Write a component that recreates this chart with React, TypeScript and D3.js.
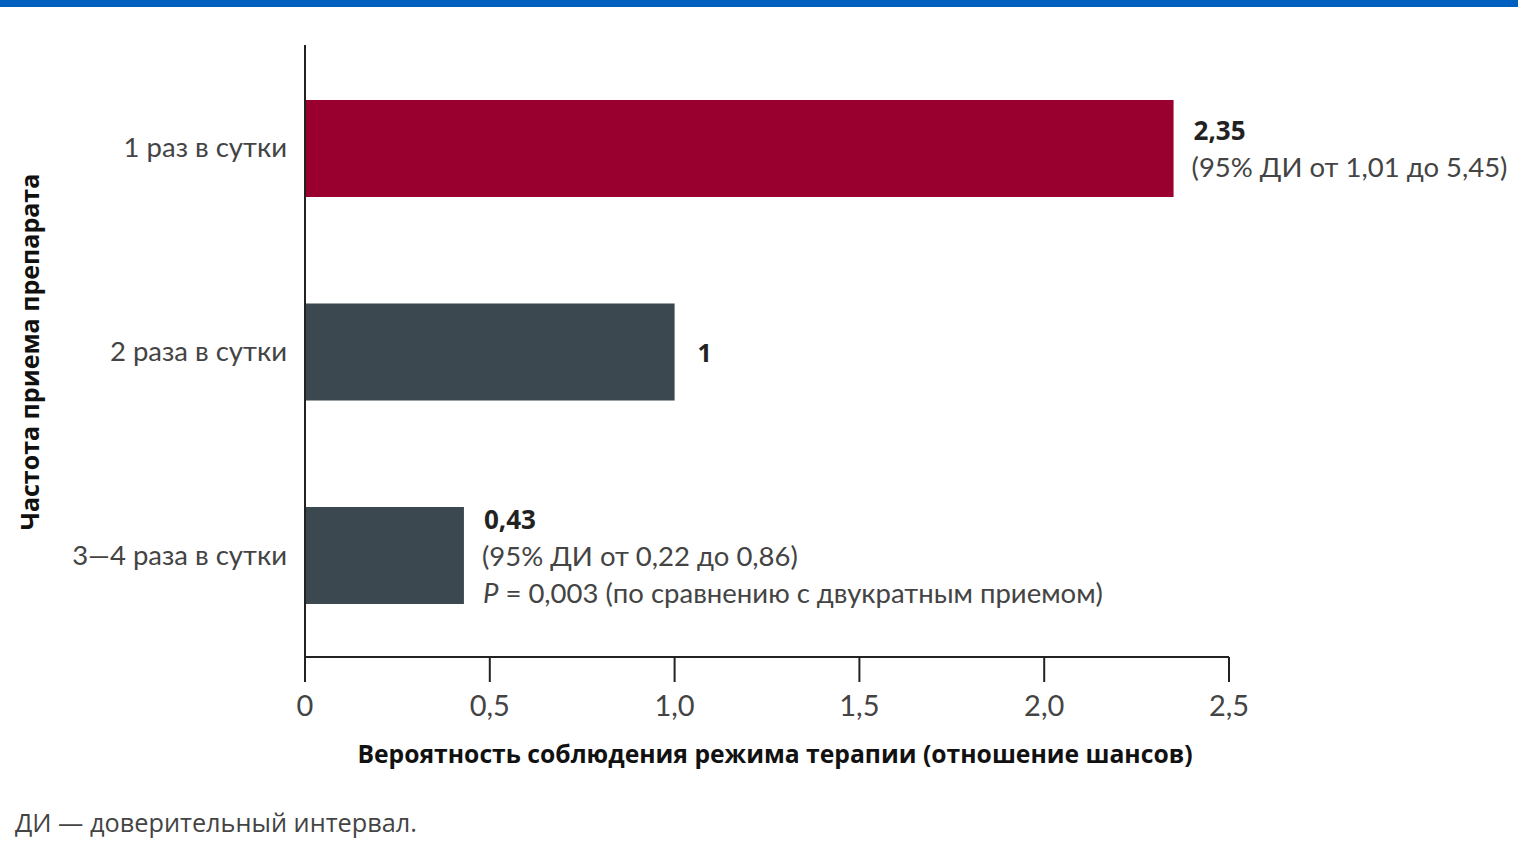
import React from "react";
import * as d3 from "d3";

const categories = ["1 раз в сутки", "2 раза в сутки", "3—4 раза в сутки"];
const values = [2.35, 1, 0.43];
const valueLabels = ["2,35", "1", "0,43"];
const ciLabels = ["(95% ДИ от 1,01 до 5,45)", "", "(95% ДИ от 0,22 до 0,86)"];
const pLabels = ["", "", " = 0,003 (по сравнению с двукратным приемом)"];
const xTicks = [0, 0.5, 1.0, 1.5, 2.0, 2.5];
const xTickLabels = ["0", "0,5", "1,0", "1,5", "2,0", "2,5"];
const barColors = ["#990030", "#3b4850", "#3b4850"];

const W = 1518;
const H = 841;
const FONT = "Lato, 'Open Sans', 'DejaVu Sans', sans-serif";
const BOLD_FONT = "'Open Sans', Lato, sans-serif";

export default function App() {
  const x = d3.scaleLinear().domain([0, 2.5]).range([305, 1229]);
  const y = d3
    .scaleBand<string>()
    .domain(categories)
    .range([47, 657])
    .paddingInner(0.5233)
    .paddingOuter(0.2604);
  const bw = y.bandwidth();
  const axisY = 657;
  const lineH = 36.5;

  return (
    <svg
      width={W}
      height={H}
      style={{ position: "absolute", left: 0, top: 0, background: "#fff" }}
      fontFamily={FONT}
    >
      <rect x={0} y={0} width={W} height={7} fill="#0060c0" />

      {categories.map((c, i) => (
        <rect
          key={c}
          x={x(0)}
          y={y(c)}
          width={x(values[i]) - x(0)}
          height={bw}
          fill={barColors[i]}
        />
      ))}

      {/* axes */}
      <line x1={x(0)} x2={x(0)} y1={45} y2={axisY} stroke="#222" strokeWidth={2} />
      <line x1={x(0)} x2={x(2.5)} y1={axisY} y2={axisY} stroke="#222" strokeWidth={2} />
      {xTicks.map((t, i) => (
        <g key={t}>
          <line x1={x(t)} x2={x(t)} y1={axisY} y2={axisY + 25} stroke="#222" strokeWidth={2} />
          <text x={x(t)} y={716} textAnchor="middle" fontSize={29} fill="#444">
            {xTickLabels[i]}
          </text>
        </g>
      ))}

      {/* category labels */}
      {categories.map((c) => (
        <text
          key={c}
          x={287}
          y={(y(c) as number) + bw / 2 + 9}
          textAnchor="end"
          fontSize={27.5}
          fill="#444"
        >
          {c}
        </text>
      ))}

      {/* value annotations */}
      {categories.map((c, i) => {
        const mid = (y(c) as number) + bw / 2;
        const lx = x(values[i]) + 18;
        const lines = 1 + (ciLabels[i] ? 1 : 0) + (pLabels[i] ? 1 : 0);
        const firstBase = mid - ((lines - 1) * lineH) / 2 + 10;
        if (lines === 1) {
          return (
            <text key={c} x={lx + 5} y={firstBase} fontSize={25} fontWeight="bold" fill="#222" fontFamily={BOLD_FONT}>
              {valueLabels[i]}
            </text>
          );
        }
        return (
          <g key={c}>
            <text x={lx + 2} y={firstBase} fontSize={26} fontWeight="bold" fill="#222" fontFamily={BOLD_FONT}>
              {valueLabels[i]}
            </text>
            <text x={lx} y={firstBase + lineH} fontSize={27.5} fill="#444">
              {ciLabels[i]}
            </text>
            {pLabels[i] && (
              <text x={lx + 1} y={firstBase + 2 * lineH + 1} fontSize={27.5} fill="#444">
                <tspan fontStyle="italic">P</tspan>
                {pLabels[i]}
              </text>
            )}
          </g>
        );
      })}

      {/* axis titles */}
      <text x={775} y={763} textAnchor="middle" fontSize={24.7} fontWeight="bold" fill="#111" fontFamily={BOLD_FONT}>
        Вероятность соблюдения режима терапии (отношение шансов)
      </text>
      <text
        transform={`translate(39, 352) rotate(-90)`}
        textAnchor="middle"
        fontSize={25}
        fontWeight="bold"
        fill="#111"
        fontFamily={BOLD_FONT}
      >
        Частота приема препарата
      </text>

      <text x={15} y={832} fontSize={25.3} fill="#444" fontFamily={BOLD_FONT}>
        ДИ — доверительный интервал.
      </text>
    </svg>
  );
}
